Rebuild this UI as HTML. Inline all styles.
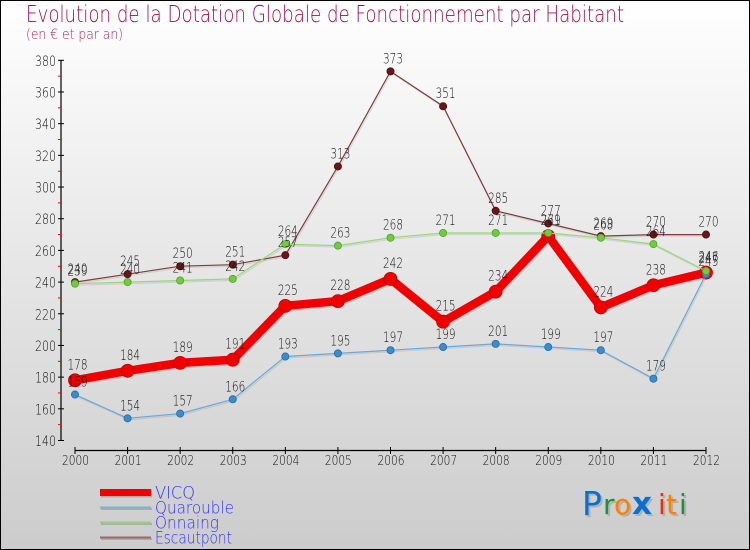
<!DOCTYPE html>
<html lang="fr">
<head>
<meta charset="utf-8">
<title>Evolution de la Dotation Globale de Fonctionnement par Habitant</title>
<style>
html,body{margin:0;padding:0;width:750px;height:550px;overflow:hidden;background:#fff}
svg{display:block}
text{font-family:"DejaVu Sans ExtraLight","DejaVu Sans","Liberation Sans",sans-serif;font-weight:200}
</style>
</head>
<body>
<svg id="chart" xmlns="http://www.w3.org/2000/svg" width="750" height="550" viewBox="0 0 750 550">
<defs>
<linearGradient id="bg" x1="0" y1="0" x2="0" y2="1">
<stop offset="0" stop-color="#ffffff"/>
<stop offset="1" stop-color="#cccccc"/>
</linearGradient>
</defs>
<rect x="0.5" y="0.5" width="749" height="549" fill="url(#bg)" stroke="#000" stroke-width="1"/>
<text x="26" y="22" font-size="23.5" fill="#a80d45" textLength="598" lengthAdjust="spacingAndGlyphs">Evolution de la Dotation Globale de Fonctionnement par Habitant</text>
<text x="26" y="39" font-size="14.5" fill="#b82a5c" textLength="97" lengthAdjust="spacingAndGlyphs">(en € et par an)</text>
<g id="axes"></g>
<g id="series"></g>
<g id="labels"></g>
<g id="legend"></g>
<g>
<text fill="#999" opacity="0.55" transform="translate(2,2)" style="font-weight:400"><tspan x="582" y="515" font-size="33">P</tspan><tspan x="603" y="514" font-size="28">r</tspan><tspan x="614" y="514" font-size="28">o</tspan><tspan x="632" y="514" font-size="31" font-weight="700">x</tspan><tspan x="658" y="514" font-size="28">i</tspan><tspan x="666" y="514" font-size="28">t</tspan><tspan x="679" y="514" font-size="28">i</tspan></text>
<text style="font-weight:400"><tspan x="582" y="515" font-size="33" fill="#0a6fd0">P</tspan><tspan x="603" y="514" font-size="28" fill="#1a9040">r</tspan><tspan x="614" y="514" font-size="28" fill="#ff8000">o</tspan><tspan x="632" y="514" font-size="31" font-weight="700" fill="#0a6fd0">x</tspan><tspan x="658" y="514" font-size="28" fill="#e83010">i</tspan><tspan x="666" y="514" font-size="28" fill="#ff8000">t</tspan><tspan x="679" y="514" font-size="28" fill="#1a9040">i</tspan></text>
</g>
</svg>
<script>
const years = [2000,2001,2002,2003,2004,2005,2006,2007,2008,2009,2010,2011,2012];
const yTicks = [140,160,180,200,220,240,260,280,300,320,340,360,380];
const yMinorTicks = [150,170,190,210,230,250,270,290,310,330,350,370];
const vicq = [178,184,189,191,225,228,242,215,234,269,224,238,246];
const quarouble = [169,154,157,166,193,195,197,199,201,199,197,179,245];
const onnaing = [239,240,241,242,264,263,268,271,271,271,268,264,247];
const escautpont = [240,245,250,251,257,313,373,351,285,277,269,270,270];

const NS = 'http://www.w3.org/2000/svg';
function xPos(i){ return 75 + i * (706 - 75) / (years.length - 1); }
function yPos(v){ return 440.5 - (v - 140) * (440.5 - 60.3) / 240; }
function mk(tag, attrs, parent){
  const el = document.createElementNS(NS, tag);
  for (const k in attrs) el.setAttribute(k, attrs[k]);
  parent.appendChild(el);
  return el;
}

const axes = document.getElementById('axes');
const yLine = mk('line', {x1:61,x2:61,y1:yPos(380),y2:yPos(140),stroke:'#000','stroke-width':1.2}, axes);


const xLine = mk('line', {x1:xPos(0),x2:xPos(12),y1:450.5,y2:450.5,stroke:'#000','stroke-width':1.2}, axes);



yTicks.forEach(function(v){
  const t = mk('line', {x1:58,x2:64,y1:yPos(v),y2:yPos(v),stroke:'#000','stroke-width':1}, axes);
  
  
  const l = mk('text', {x:56,y:yPos(v)+5.5,'text-anchor':'end','font-size':14.5,fill:'#111',textLength:21,lengthAdjust:'spacingAndGlyphs'}, axes);
  
  
  l.textContent = v;
});
yMinorTicks.forEach(function(v){
  const t = mk('line', {x1:58,x2:61,y1:yPos(v),y2:yPos(v),stroke:'#f00','stroke-width':1}, axes);
  
  
});
years.forEach(function(y,i){
  const t = mk('line', {x1:xPos(i),x2:xPos(i),y1:447,y2:454,stroke:'#000','stroke-width':1}, axes);
  
  
  const l = mk('text', {x:xPos(i)+0.5,y:465,'text-anchor':'middle','font-size':13.5,fill:'#111',textLength:27,lengthAdjust:'spacingAndGlyphs'}, axes);
  
  
  l.textContent = y;
});

const seriesGroup = document.getElementById('series');
const labelsGroup = document.getElementById('labels');
function drawSeries(name, values, color, marker, edge, width, r, lift){
  const pts = values.map(function(v,i){ return xPos(i).toFixed(1) + ',' + yPos(v).toFixed(1); }).join(' ');
  const shadow = mk('polyline', {points:pts,fill:'none',stroke:'#777','stroke-opacity':0.2,'stroke-width':width,transform:'translate(1,1.5)'}, seriesGroup);
  
  
  const line = mk('polyline', {points:pts,fill:'none',stroke:color,'stroke-width':width}, seriesGroup);
  
  
  values.forEach(function(v,i){
    const c = mk('circle', {cx:xPos(i),cy:yPos(v),r:r,fill:marker,stroke:edge,'stroke-width':0.8}, seriesGroup);
    
    
    const t = mk('text', {x:xPos(i)+2.5,y:yPos(v)-lift,'text-anchor':'middle','font-size':14,fill:'#111',textLength:20,lengthAdjust:'spacingAndGlyphs'}, labelsGroup);
    
    
    t.textContent = v;
  });
}
drawSeries('vicq', vicq, '#f00000', '#f00000', '#c00000', 8.5, 6.5, 11);
drawSeries('quarouble', quarouble, '#6aa8d8', '#3a8ccc', '#2a6ca0', 1.2, 3.6, 8);
drawSeries('escautpont', escautpont, '#803c3c', '#661818', '#501010', 1.2, 3.6, 8);
drawSeries('onnaing', onnaing, '#98d878', '#70cc3c', '#50a030', 1.2, 3.6, 8);

const legendNames = ['VICQ','Quarouble','Onnaing','Escautpont'];
const legendColors = ['#f00000','#80b0d0','#98d078','#a06868'];
const legendWidths = [7,2,2,2];
const legendLabelWidths = [40,79,64,77];
const legend = document.getElementById('legend');
legendNames.forEach(function(n,i){
  const yy = 492.5 + i * 15;
  const s = mk('line', {x1:101,x2:152,y1:yy+1.5,y2:yy+1.5,stroke:'#888','stroke-opacity':0.5,'stroke-width':legendWidths[i]}, legend);
  
  
  const sw = mk('line', {x1:100,x2:151,y1:yy,y2:yy,stroke:legendColors[i],'stroke-width':legendWidths[i]}, legend);
  
  
  const t = mk('text', {x:155,y:yy+6,'font-size':17,fill:'#3333ff',textLength:legendLabelWidths[i],lengthAdjust:'spacingAndGlyphs'}, legend);
  
  
  t.textContent = n;
});
</script>
</body>
</html>
